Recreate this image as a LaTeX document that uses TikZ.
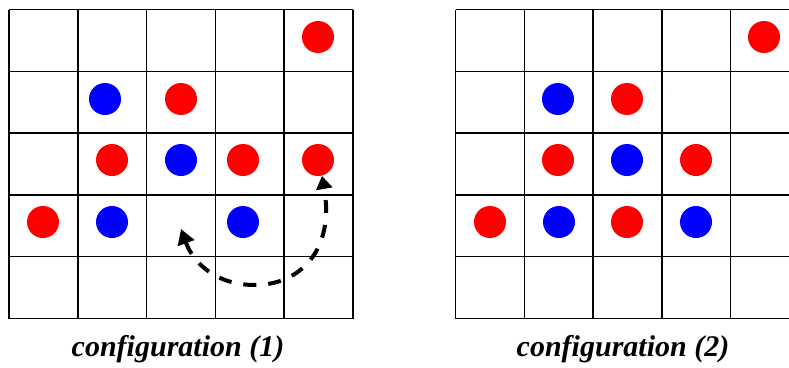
\documentclass[tikz,border=0pt]{standalone}
\usepackage{fontspec}
\setmainfont{Liberation Serif}
\usetikzlibrary{arrows.meta}
\definecolor{dotred}{RGB}{255,0,0}
\definecolor{dotblue}{RGB}{0,0,255}
\tikzset{
  gridline/.style={black, line width=1.5pt},
  reddot/.style={circle, fill=dotred, inner sep=0pt, minimum size=32pt, draw=none},
  bluedot/.style={circle, fill=dotblue, inner sep=0pt, minimum size=32pt, draw=none},
  caption/.style={font=\fontsize{30}{36}\selectfont\bfseries\itshape, anchor=base, inner sep=0pt},
  swaparrow/.style={line width=4pt, dash pattern=on 13pt off 12pt,
    {Triangle[width=17pt,length=15pt]}-{Triangle[width=16pt,length=13pt]}}
}
\begin{document}
\begin{tikzpicture}[x=1pt,y=-1pt]
\useasboundingbox (0,0) rectangle (789,367);
\clip (0,0) rectangle (789,367);
\fill[white] (0,0) rectangle (789,367);
% left grid
\foreach \i in {0,...,5} {
  \draw[gridline] ({9+68.8*\i},9.5) -- ({9+68.8*\i},318.5);
  \draw[gridline] (9,{9.5+61.8*\i}) -- (353,{9.5+61.8*\i});
}
% right grid
\foreach \i in {0,...,5} {
  \draw[gridline] ({455.7+68.7*\i},9.5) -- ({455.7+68.7*\i},318.5);
  \draw[gridline] (455.7,{9.5+61.8*\i}) -- (799.2,{9.5+61.8*\i});
}
% configuration (1)
\node[reddot]  (a1) at (318,37) {};
\node[bluedot] (a2) at (105,99) {};
\node[reddot]  (a3) at (181,99) {};
\node[reddot]  (a4) at (112,160) {};
\node[bluedot] (a5) at (181,160) {};
\node[reddot]  (a6) at (243,160) {};
\node[reddot]  (a7) at (318,160) {};
\node[reddot]  (a8) at (43,222) {};
\node[bluedot] (a9) at (112,222) {};
\node[bluedot] (a10) at (243,222) {};
% configuration (2)
\node[reddot]  (b1) at (764,37) {};
\node[bluedot] (b2) at (558,99) {};
\node[reddot]  (b3) at (627,99) {};
\node[reddot]  (b4) at (558,160) {};
\node[bluedot] (b5) at (627,160) {};
\node[reddot]  (b6) at (696,160) {};
\node[reddot]  (b7) at (490,222) {};
\node[bluedot] (b8) at (559,222) {};
\node[reddot]  (b9) at (627,222) {};
\node[bluedot] (b10) at (696,222) {};
% swap arrow
\coordinate (arrR) at (322,176);
\coordinate (arrB) at (255,285);
\coordinate (arrL) at (181,229);
\draw[swaparrow] (arrL) .. controls (193,262) and (215,285) .. (arrB)
  .. controls (300,285) and (335,250) .. (arrR);
% captions
\node[caption] (c1) at (178,356) {configuration (1)};
\node[caption] (c2) at (623,356) {configuration (2)};
\end{tikzpicture}
\end{document}
